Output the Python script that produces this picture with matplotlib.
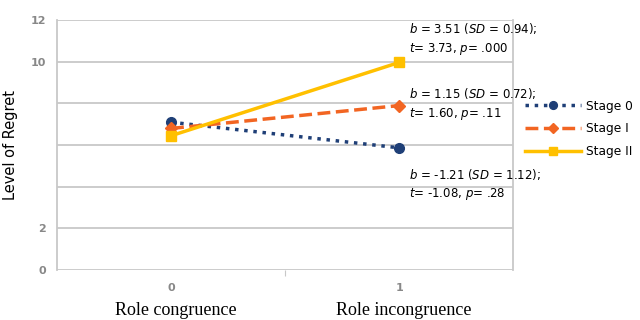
import matplotlib.pyplot as plt

categories = [0, 1]
cat_labels = ['Role congruence', 'Role incongruence']
stage0 = [7.1, 5.87]
stage1 = [6.8, 7.9]
stage2 = [6.45, 9.97]
yticks = [0, 2, 4, 6, 8, 10, 12]
ytick_labels = ['0', '2', '', '', '', '10', '12']
notes = [
    (1.045, 11.1, r'$b$ = 3.51 ($SD$ = 0.94);' + '\n' + r'$t$= 3.73, $p$= .000'),
    (1.045, 7.98, r'$b$ = 1.15 ($SD$ = 0.72);' + '\n' + r'$t$= 1.60, $p$= .11'),
    (1.045, 4.1, r'$b$ = -1.21 ($SD$ = 1.12);' + '\n' + r'$t$= -1.08, $p$= .28'),
]

plt.rcParams['mathtext.fontset'] = 'dejavusans'

fig = plt.figure(figsize=(6.4, 3.2), dpi=100)
ax = fig.add_axes([0.089, 0.156, 0.713, 0.781])

grid_c = '#c8c8c8'
for y in yticks:
    ax.axhline(y, color=grid_c, lw=1.3, zorder=0)

ax.plot(categories, stage0, ':', color='#1f3f77', lw=2.5, marker='o', ms=7, label='Stage 0', zorder=3)
ax.plot(categories, stage1, '--', color='#f26522', lw=2.5, marker='D', ms=6.5, label='Stage I', zorder=3)
ax.plot(categories, stage2, '-', color='#ffc000', lw=2.5, marker='s', ms=7.5, label='Stage II', zorder=3)

ax.set_xlim(-0.5, 1.5)
ax.set_ylim(0, 12)
ax.set_yticks(yticks)
ax.set_yticklabels(ytick_labels, color='#888888', fontsize=8, fontweight='bold')
ax.tick_params(axis='y', length=0, pad=8)
ax.set_xticks([0.5])
ax.set_xticklabels([''])
ax.tick_params(axis='x', length=4, color=grid_c)
for x, lab in zip(categories, categories):
    ax.text(x, -0.6, str(lab), ha='center', va='top', color='#888888', fontsize=8, fontweight='bold')
for x, lab in zip(categories, cat_labels):
    ax.text(x + 0.02, -1.55, lab, ha='center', va='top', fontsize=13, family='Liberation Serif')

for s in ['top', 'bottom']:
    ax.spines[s].set_visible(False)
ax.spines['left'].set_color(grid_c)
ax.spines['right'].set_color(grid_c)
ax.spines['left'].set_linewidth(1.3)
ax.spines['right'].set_linewidth(1.3)

for x, y, t in notes:
    ax.text(x, y, t, fontsize=8.5, va='center', ha='left', linespacing=1.4)

ax.set_ylabel('Level of Regret', fontsize=10.5)
ax.yaxis.set_label_coords(-0.086, 0.5)

ax.legend(loc='center left', bbox_to_anchor=(1.02, 0.565), frameon=False,
          fontsize=8.8, handlelength=4.6, labelspacing=0.8, handletextpad=0.4,
          markerscale=0.8, borderaxespad=0.0, borderpad=0.2)

fig.savefig('out.png', dpi=100)
